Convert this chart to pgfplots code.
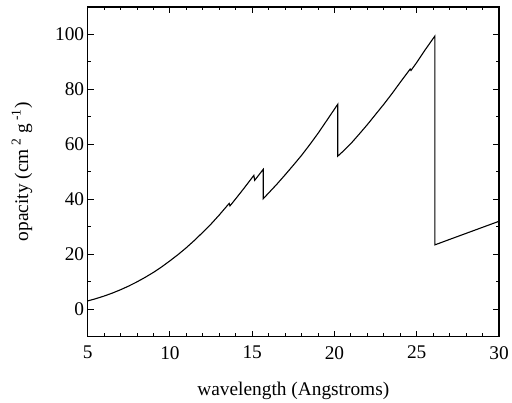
\documentclass[border=0pt]{standalone}
\usepackage{pgfplots}
\pgfplotsset{compat=1.18}
\usepackage{fontspec}
\setmainfont{Liberation Serif}
\begin{document}
\begin{tikzpicture}
\begin{axis}[
  scale only axis,
  width=413bp, height=331bp,
  xmin=5, xmax=30, ymin=-10, ymax=110,
  xtick={5,10,...,30}, ytick={0,20,...,100},
  minor x tick num=4, minor y tick num=1,
  tick align=inside,
  major tick length=6bp, minor tick length=3.5bp,
  axis line style={line width=1.2pt},
  every tick/.style={black, line width=1pt},
  /pgf/number format/assume math mode=true,
  tick label style={font=\fontsize{19.5}{23}\selectfont},
  label style={font=\fontsize{19.5}{23}\selectfont},
  xlabel={wavelength (Angstroms)},
  ylabel={opacity (cm\textsuperscript{ 2} g\textsuperscript{ -1})},
  xlabel style={at={(axis description cs:0.5,0)}, anchor=north, yshift=-42bp},
  ylabel style={at={(axis description cs:0,0.5)}, anchor=south, yshift=52bp},
  xticklabel style={yshift=-6bp},
]
\addplot[black, line width=1.1pt, line join=miter] coordinates {
(5,3.0) (5.5,3.83) (6,4.78) (6.5,5.86) (7,7.08) (7.5,8.44) (8,9.95) (8.5,11.6)
(9,13.4) (9.5,15.4) (10,17.6) (10.5,19.9) (11,22.4) (11.5,25.1) (12,28.0)
(12.5,31.0) (13,34.3) (13.3,36.4) (13.6,38.5) (13.65,37.6) (14,40.2) (14.5,44.0)
(15.1,48.7) (15.15,46.9) (15.67,50.9) (15.67,40.2) (16,42.3) (16.5,45.5)
(17,48.9) (17.5,52.4) (18,56.0) (18.5,59.9) (19,64.0) (19.5,68.4) (20.2,74.6)
(20.2,55.7) (20.6,57.9) (21,60.3) (21.5,63.7) (22,67.2) (22.5,70.9) (23,74.6)
(23.5,78.5) (24,82.6) (24.6,87.4) (24.65,86.9) (25,89.8) (25.5,94.3) (26.1,99.4)
(26.1,23.4) (27,25.4) (28,27.6) (29,29.8) (30,32.0)
};
\end{axis}
\path (current axis.south west) ++(-88bp,-62bp) rectangle ++(512bp,400bp);
\end{tikzpicture}
\end{document}
